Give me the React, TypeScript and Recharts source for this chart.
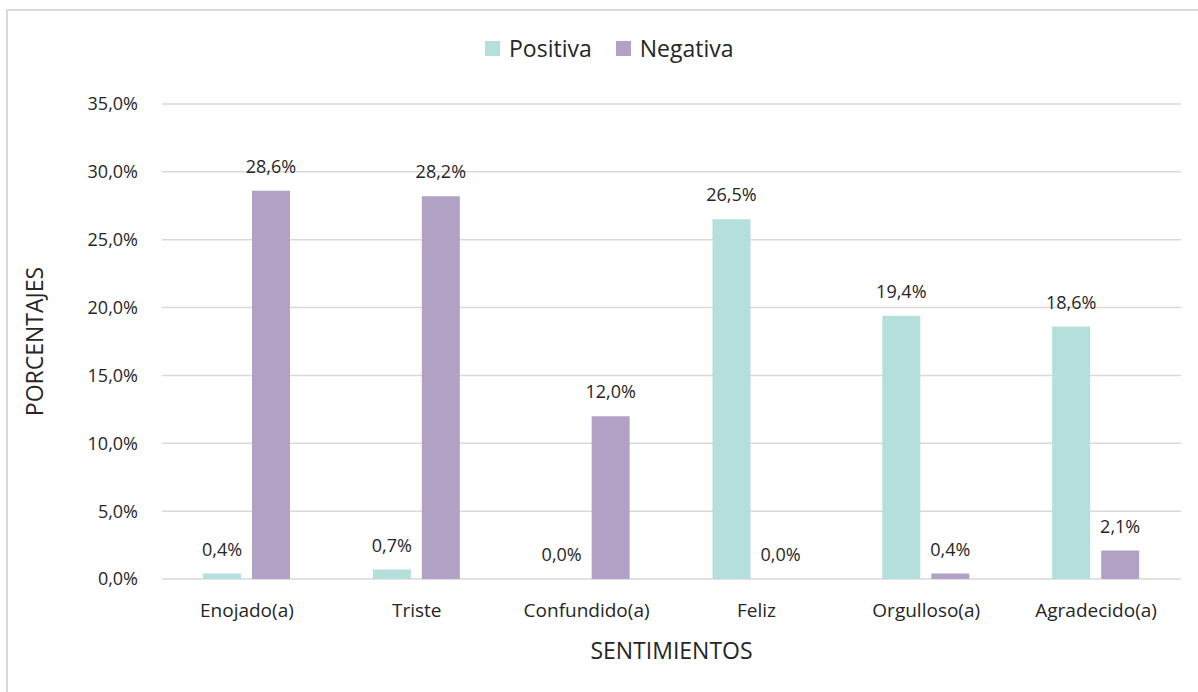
import React from "react";
import {
  Bar,
  BarChart,
  CartesianGrid,
  LabelList,
  Legend,
  XAxis,
  YAxis,
} from "recharts";

const categories = [
  "Enojado(a)",
  "Triste",
  "Confundido(a)",
  "Feliz",
  "Orgulloso(a)",
  "Agradecido(a)",
];
const positiva = [0.4, 0.7, 0.0, 26.5, 19.4, 18.6];
const negativa = [28.6, 28.2, 12.0, 0.0, 0.4, 2.1];
const yTicks = [0, 5, 10, 15, 20, 25, 30, 35];
const series = [
  { key: "Positiva", color: "#b4dfda" },
  { key: "Negativa", color: "#b1a1c5" },
];

const data = categories.map((name, i) => ({
  name,
  Positiva: positiva[i],
  Negativa: negativa[i],
}));

const FONT = "'Open Sans', sans-serif";
const TEXT = "#262626";

const pct = (v: number) => `${Number(v).toFixed(1).replace(".", ",")}%`;

const ValueLabel = (props: any) => {
  const { x, y, width, value } = props;
  if (value === undefined || value === null) return null;
  return (
    <text
      x={Number(x) + Number(width) / 2}
      y={Number(y) - 18}
      textAnchor="middle"
      fill={TEXT}
      fontSize={18}
      fontFamily={FONT}
    >
      {pct(value)}
    </text>
  );
};

const LegendBox = () => (
  <div style={{ display: "flex", alignItems: "center", fontFamily: FONT, fontSize: 23, color: TEXT }}>
    {series.map((s) => (
      <div key={s.key} style={{ display: "flex", alignItems: "center", marginRight: 24 }}>
        <span style={{ width: 15, height: 15, background: s.color, display: "inline-block", marginRight: 9 }} />
        <span>{s.key}</span>
      </div>
    ))}
  </div>
);

// zero values still get a (sub-pixel) rect so that their label is drawn
const zeroSize = (v: any) => (Number(v) === 0 ? 0.01 : 0);

export default function App() {
  return (
    <div
      style={{
        position: "absolute",
        left: 0,
        top: 0,
        width: 1198,
        height: 692,
        background: "#fff",
        fontFamily: FONT,
        overflow: "hidden",
      }}
    >
      <div
        style={{
          position: "absolute",
          left: 6,
          top: 9,
          width: 1200,
          height: 700,
          border: "2px solid #d9d9d9",
        }}
      />
      <BarChart
        width={1198}
        height={692}
        data={data}
        margin={{ top: 104, right: 17, bottom: 83, left: 82 }}
        barGap={11}
        barSize={38}
      >
        <CartesianGrid vertical={false} stroke="#d9d9d9" strokeWidth={1.5} />
        <XAxis
          dataKey="name"
          axisLine={false}
          tickLine={false}
          tickSize={0}
          tickMargin={25}
          height={30}
          tick={{ fill: TEXT, fontSize: 19, fontFamily: FONT }}
          label={{
            value: "SENTIMIENTOS",
            position: "insideBottom",
            offset: -50,
            fill: TEXT,
            fontSize: 23,
            fontFamily: FONT,
          }}
        />
        <YAxis
          domain={[0, 35]}
          ticks={yTicks}
          axisLine={false}
          tickLine={false}
          tickSize={0}
          tickMargin={24}
          width={80}
          tickFormatter={pct}
          tick={{ fill: TEXT, fontSize: 18, fontFamily: FONT }}
          label={{
            value: "PORCENTAJES",
            angle: -90,
            position: "insideLeft",
            offset: -47,
            style: { textAnchor: "middle" },
            fill: TEXT,
            fontSize: 23,
            fontFamily: FONT,
          }}
        />
        <Legend
          verticalAlign="middle"
          content={<LegendBox />}
          wrapperStyle={{ top: 32, left: 485, width: "auto" }}
        />
        {series.map((s) => (
          <Bar
            key={s.key}
            dataKey={s.key}
            fill={s.color}
            minPointSize={zeroSize}
            isAnimationActive={false}
          >
            <LabelList dataKey={s.key} content={<ValueLabel />} />
          </Bar>
        ))}
      </BarChart>
    </div>
  );
}
